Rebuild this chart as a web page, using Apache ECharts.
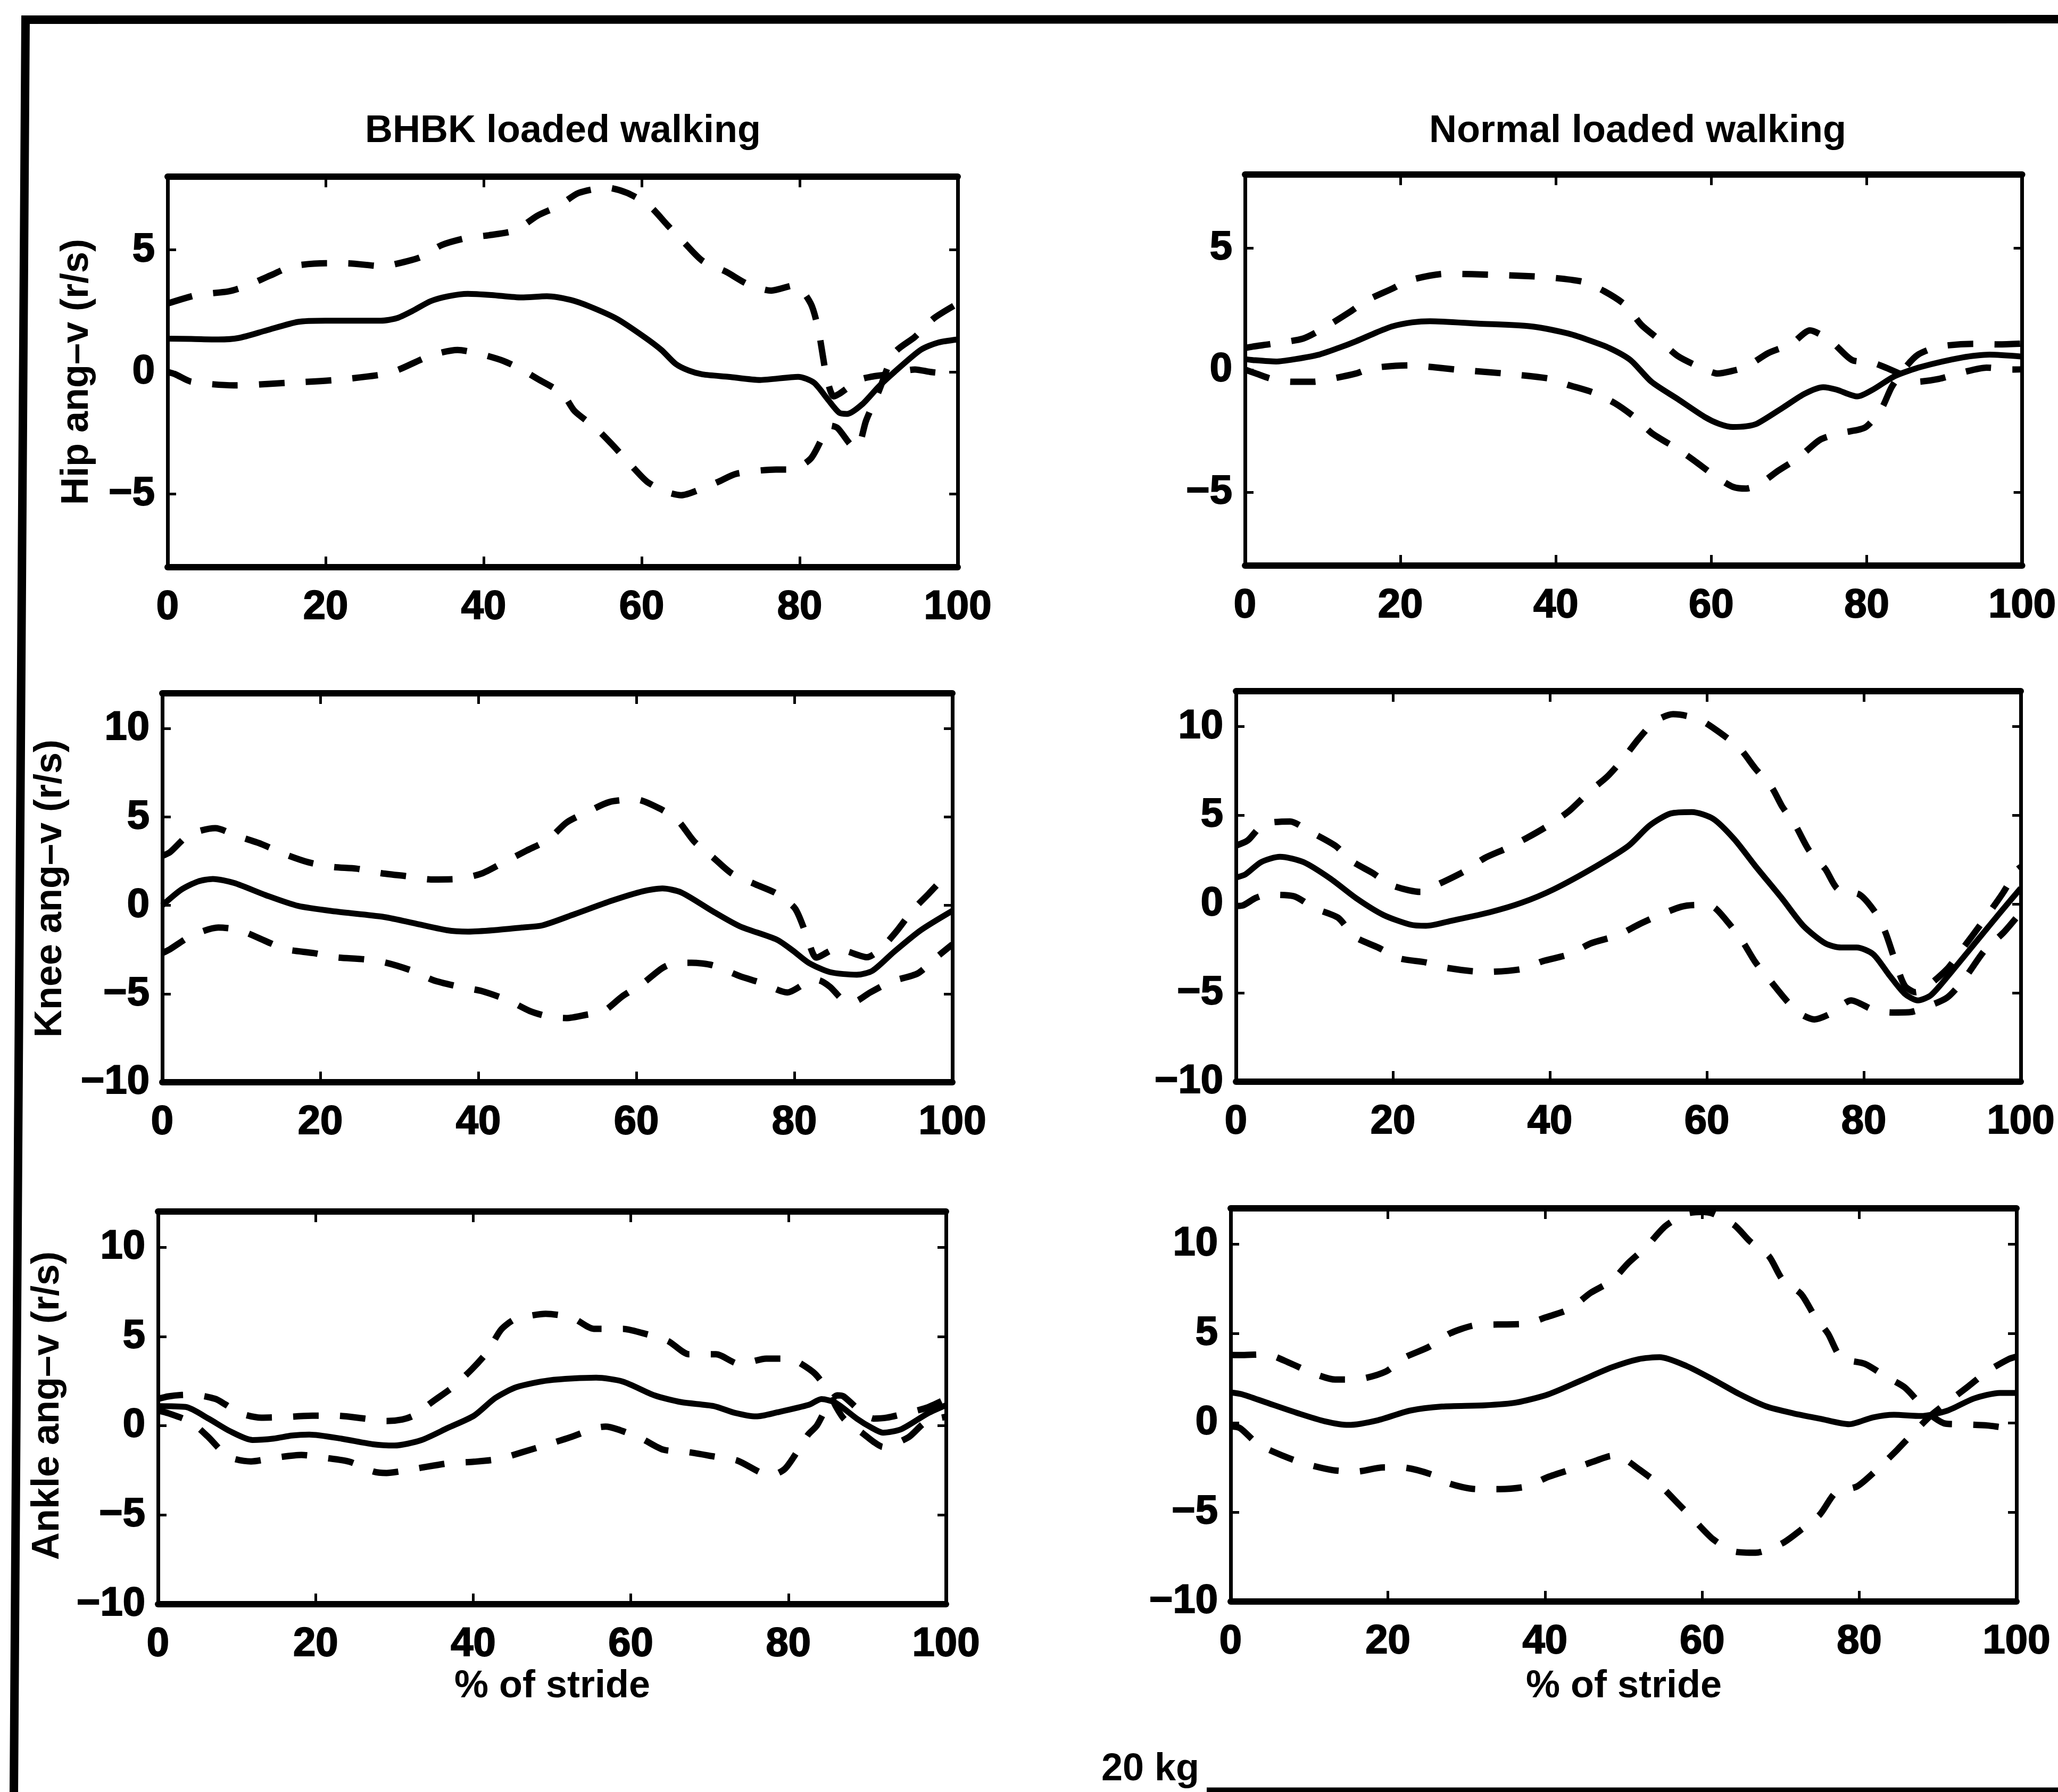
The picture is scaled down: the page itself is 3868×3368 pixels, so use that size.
<!DOCTYPE html>
<html>
<head>
<meta charset="utf-8">
<title>Joint angular velocity, 20 kg loaded walking</title>
<script src="https://cdn.jsdelivr.net/npm/echarts@6/dist/echarts.min.js"></script>
<style>
  html, body { margin: 0; padding: 0; background: #fff; }
  #chart { width: 3868px; height: 3368px; }
</style>
</head>
<body>
<div id="chart"></div>
<script>
// ---- axis values ----
const strideRange = [0, 100];
const strideInterval = 20;
const hipRange = [-8, 8];
const hipTicks = [-5, 0, 5];
const limbRange = [-10, 12];
const limbTicks = [-10, -5, 0, 5, 10];

// ---- texts ----
const columnTitles = ['BHBK loaded walking', 'Normal loaded walking'];
const rowNames = ['Hip ang\u2013v (r/s)', 'Knee ang\u2013v (r/s)', 'Ankle ang\u2013v (r/s)'];
const strideName = '% of stride';
const loadName = '20 kg';

// ---- data: [% of stride, angular velocity (r/s)] ----
// Hip, BHBK
const hipBhbkMean = [[0,1.36],[3,1.35],[6.4,1.33],[9,1.39],[12.5,1.7],[16.5,2.05],[20,2.1],[27,2.1],[29,2.2],[31,2.5],[33.3,2.9],[35.5,3.1],[38,3.2],[41,3.15],[44.8,3.05],[48,3.1],[51,2.95],[53.5,2.67],[56.9,2.17],[60.3,1.44],[62.5,0.9],[64.3,0.33],[66,0.05],[67.7,-0.1],[71,-0.2],[75,-0.33],[79.8,-0.2],[81.8,-0.44],[83.5,-1.1],[85,-1.67],[86,-1.72],[87.9,-1.33],[90,-0.6],[92,0],[95.3,0.9],[97.5,1.2],[100,1.33]];
const hipBhbkUpper = [[0,2.8],[3.7,3.15],[7.7,3.3],[9.8,3.5],[13,3.95],[15.8,4.33],[20,4.45],[22.6,4.45],[27.3,4.33],[28.6,4.4],[32,4.7],[34.7,5.2],[38,5.5],[40.7,5.6],[44,5.8],[46.8,6.4],[49.5,6.8],[52,7.33],[55.6,7.55],[58.2,7.33],[61,6.8],[63.3,6.0],[65.3,5.33],[67.7,4.55],[70.7,4.1],[73.4,3.6],[76.4,3.33],[79.4,3.55],[81.4,2.8],[82.4,1.67],[83.4,-0.2],[84.3,-1.0],[85,-0.9],[87.5,-0.33],[89,-0.2],[91.2,-0.1],[94.6,0.1],[96.5,0.0],[98,-0.05],[100,-0.1]];
const hipBhbkLower = [[0,0],[1,-0.1],[3,-0.4],[8.4,-0.55],[15,-0.45],[21.2,-0.33],[27.3,-0.1],[29.3,0.1],[33.3,0.67],[36.7,0.9],[39.7,0.72],[42.5,0.45],[44.8,0.1],[46.8,-0.28],[50,-0.9],[51.5,-1.6],[54.2,-2.3],[56.2,-2.95],[58.6,-3.8],[60.7,-4.5],[63,-4.9],[65,-5.05],[67.5,-4.8],[69.7,-4.5],[72,-4.17],[77,-4.0],[79,-4.0],[81.4,-3.55],[83.1,-2.55],[83.9,-2.2],[84.8,-2.3],[86.5,-3.0],[87.3,-3.1],[88.4,-2.0],[90,-0.8],[92,0.78],[94.6,1.44],[97,2.2],[100,2.8]];
// Hip, normal
const hipNormalMean = [[0,0.45],[1,0.41],[4,0.35],[6.5,0.45],[9.5,0.63],[12,0.9],[14.3,1.18],[17,1.55],[19,1.79],[21.5,1.95],[23.8,2.0],[30,1.9],[36.7,1.79],[41.4,1.51],[44,1.25],[46.9,0.9],[49.6,0.41],[52.3,-0.48],[55.7,-1.19],[59.1,-1.91],[61,-2.2],[62.8,-2.33],[64.5,-2.3],[65.9,-2.19],[69.3,-1.52],[72,-0.97],[74.4,-0.7],[76.1,-0.8],[78.8,-1.08],[80.8,-0.8],[83.6,-0.25],[87,0.13],[92.4,0.52],[95.8,0.63],[100,0.55]];
const hipNormalUpper = [[0,0.9],[1,0.96],[3.4,1.07],[7.5,1.29],[10.2,1.73],[13.6,2.4],[15.6,2.84],[19,3.34],[21.1,3.67],[25.8,3.94],[32.6,3.89],[38.7,3.8],[43.5,3.61],[46.2,3.23],[48.9,2.67],[51,1.85],[53.3,1.24],[55.7,0.57],[58.8,0.08],[60.8,-0.14],[62.5,-0.05],[64.5,0.13],[67.3,0.69],[70.3,1.07],[72.7,1.62],[75.4,1.18],[78.1,0.41],[80.8,0.3],[84.2,-0.14],[86.4,-0.48],[89.3,-0.36],[92.4,-0.09],[95.4,0.1],[98.8,0.02],[100,0.03]];
const hipNormalLower = [[0,0.02],[1.4,-0.14],[3.4,-0.36],[6,-0.48],[8.8,-0.48],[10.2,-0.42],[14.3,-0.14],[16.3,0.08],[21.1,0.19],[27.2,0.02],[33.3,-0.14],[39.4,-0.36],[41.4,-0.59],[44.8,-0.92],[47.6,-1.36],[50.3,-1.97],[52.3,-2.57],[55.7,-3.24],[57.7,-3.68],[60.5,-4.34],[62.8,-4.78],[64.5,-4.85],[66.2,-4.67],[68.6,-4.12],[71.3,-3.57],[74,-2.85],[76.8,-2.57],[79.8,-2.35],[81.9,-1.58],[83.2,-0.7],[84.9,0.08],[86.6,0.63],[89.3,0.96],[93.8,1.07],[97,1.05],[100,1.08]];
// Knee, BHBK
const kneeBhbkMean = [[0,0],[2.4,0.89],[4.5,1.35],[6.4,1.5],[9.1,1.27],[13.1,0.58],[17.2,-0.03],[21.9,-0.34],[27.9,-0.64],[31.3,-0.95],[36,-1.4],[38.7,-1.48],[42,-1.4],[45.5,-1.25],[48.1,-1.13],[52.2,-0.49],[56.9,0.27],[60.9,0.81],[63.3,0.96],[65.7,0.73],[69.7,-0.34],[73.1,-1.18],[77.8,-1.94],[79.8,-2.55],[81.8,-3.24],[84.5,-3.77],[87.9,-3.92],[89.9,-3.69],[92.6,-2.63],[96,-1.4],[100,-0.3]];
const kneeBhbkUpper = [[0,2.8],[1,3.02],[3.4,4.0],[6.7,4.37],[9.4,3.94],[12.5,3.48],[15.5,2.9],[18.5,2.44],[21.5,2.18],[24.6,2.08],[27.6,1.83],[31,1.65],[34,1.47],[37.4,1.5],[40.4,1.8],[43.1,2.41],[46.1,3.1],[48.8,3.71],[51.2,4.7],[53.9,5.31],[56.6,5.85],[59.9,6.0],[63,5.47],[65.3,4.78],[67.3,3.63],[69.7,2.72],[72.1,1.8],[75.1,1.19],[77.8,0.66],[80.1,-0.18],[81.5,-1.63],[82.8,-2.95],[85.2,-2.47],[86.7,-2.6],[89.2,-2.93],[90.9,-2.47],[92.9,-1.48],[95,-0.26],[97,0.66],[99.3,1.73],[100,1.9]];
const kneeBhbkLower = [[0,-2.7],[1,-2.47],[3.7,-1.71],[7.1,-1.25],[9.8,-1.4],[13.1,-2.02],[15.5,-2.47],[19.2,-2.7],[21.9,-2.93],[25.6,-3.05],[28.3,-3.24],[31.6,-3.69],[34.3,-4.23],[37.7,-4.61],[40.4,-4.84],[43.8,-5.37],[46.5,-5.97],[49,-6.3],[51.2,-6.37],[53.5,-6.2],[55.9,-5.97],[58.2,-5.15],[60.9,-4.38],[63.3,-3.54],[65,-3.25],[67,-3.24],[69.7,-3.39],[73.1,-4.0],[75.8,-4.38],[79.1,-4.92],[81.8,-4.3],[83,-4.23],[84.5,-4.6],[86.2,-5.37],[87.5,-5.45],[89.6,-4.92],[92.3,-4.3],[95.6,-3.85],[98,-2.93],[100,-2.2]];
// Knee, normal
const kneeNormalMean = [[0,1.5],[1.2,1.68],[3.2,2.37],[5.6,2.67],[8.6,2.37],[12,1.45],[15.4,0.31],[18.8,-0.61],[22.2,-1.15],[24.2,-1.22],[27.6,-0.92],[32.3,-0.46],[36.4,0.08],[40.5,0.84],[45.9,2.14],[50,3.28],[52.7,4.43],[55.4,5.11],[58.1,5.19],[60.8,4.81],[63.5,3.66],[66.2,2.14],[69.6,0.31],[72.3,-1.22],[75.1,-2.21],[77.1,-2.44],[79.1,-2.44],[81.2,-2.82],[83.2,-3.97],[85.2,-5.04],[86.9,-5.42],[88.6,-5.11],[91.3,-3.74],[94.7,-1.91],[97.4,-0.46],[100,0.9]];
const kneeNormalUpper = [[0,3.3],[1.5,3.59],[3.5,4.5],[6.9,4.66],[9.3,4.12],[12.7,3.28],[14.7,2.44],[17.4,1.76],[19.8,1.07],[23.5,0.69],[25.9,1.15],[29,1.83],[31.7,2.6],[34.4,3.13],[37.1,3.74],[39.8,4.43],[42.5,5.27],[45.2,6.41],[47.3,7.18],[49.3,8.17],[51.3,9.31],[53.4,10.3],[55.7,10.7],[57.5,10.6],[59.5,10.3],[61.8,9.62],[64.2,8.78],[66.2,7.63],[68.3,6.56],[69.6,5.5],[71.3,4.43],[73,3.05],[75.1,1.98],[76.7,0.84],[79.5,0.53],[81.7,-0.61],[82.8,-1.64],[84,-3.2],[85.2,-4.58],[86.6,-4.96],[87.9,-4.7],[90.6,-3.66],[92.3,-2.67],[94,-1.68],[96,-0.46],[97.7,0.61],[99.5,1.91],[100,2.1]];
const kneeNormalLower = [[0,-0.1],[0.8,-0.08],[2.5,0.35],[3.9,0.53],[7.3,0.46],[10,-0.23],[13,-0.76],[15.1,-1.83],[18.1,-2.44],[20.8,-3.05],[24.2,-3.28],[26.9,-3.59],[31.7,-3.82],[36.4,-3.66],[39.1,-3.21],[42.5,-2.82],[45.2,-2.21],[48.6,-1.76],[51.3,-1.15],[54,-0.61],[56.7,-0.15],[58.5,-0.05],[60.8,-0.15],[62.5,-0.92],[64.5,-2.06],[66.2,-3.28],[68.3,-4.43],[70.3,-5.5],[72,-6.2],[73.7,-6.49],[75.7,-6.18],[78.4,-5.42],[81.2,-5.95],[83.5,-6.1],[85.9,-6.08],[87.9,-5.8],[90.6,-5.27],[92.7,-4.27],[95.4,-2.6],[97.8,-1.6],[100,-0.46]];
// Ankle, BHBK
const ankleBhbkMean = [[0,1.1],[3.5,1.05],[6.4,0.4],[9.1,-0.3],[12,-0.8],[14.7,-0.72],[17,-0.55],[19.2,-0.5],[23.3,-0.73],[27.3,-1.04],[30,-1.11],[33.4,-0.81],[36.8,-0.12],[40.1,0.56],[42.8,1.55],[45.5,2.16],[49.6,2.54],[55.6,2.69],[59,2.47],[63,1.7],[66.4,1.32],[70.5,1.1],[73.2,0.72],[75.9,0.52],[78.6,0.75],[82.6,1.17],[84.2,1.49],[86,1.28],[88.7,0.39],[90.5,-0.1],[92,-0.39],[94.3,-0.2],[97.7,0.69],[100,1.15]];
const ankleBhbkUpper = [[0,1.5],[1.3,1.64],[3,1.72],[4.5,1.73],[7.3,1.5],[8.5,1.2],[10.4,0.7],[13.1,0.45],[16.2,0.49],[19.6,0.56],[22.6,0.56],[26,0.41],[29,0.26],[31,0.35],[32.4,0.56],[35,1.4],[37.4,2.16],[39.8,3.15],[41.8,4.14],[43.5,5.36],[45,5.9],[46.5,6.1],[49.2,6.27],[52.6,6.04],[55.3,5.43],[59,5.43],[61.4,5.2],[64.7,4.75],[67.4,4.0],[70.8,4.0],[73.8,3.45],[77.2,3.76],[80.2,3.76],[81.5,3.5],[83.4,2.9],[85.2,1.85],[86,1.1],[87.1,0.36],[89.5,-0.45],[90.8,-0.9],[92,-1.19],[95.2,-0.66],[97.4,0.2],[100,0.5]];
const ankleBhbkLower = [[0,0.85],[1.3,0.7],[4.2,0.2],[6.3,-0.6],[8.9,-1.73],[11.8,-2.0],[14.8,-1.8],[18.2,-1.64],[21.2,-1.8],[24.3,-2.02],[27.3,-2.56],[29,-2.65],[30.7,-2.56],[33.7,-2.33],[37,-2.1],[40.1,-2.02],[43.2,-1.87],[46.2,-1.49],[49.6,-1.03],[52.3,-0.65],[55.6,-0.12],[56.8,-0.05],[58.3,-0.2],[61.4,-0.73],[64.1,-1.34],[67.4,-1.49],[70.5,-1.72],[73.5,-1.95],[76.5,-2.63],[78,-2.75],[79.6,-2.4],[81.5,-1.19],[82.5,-0.5],[83.6,0.0],[85.2,1.3],[86.2,1.7],[87,1.64],[89.3,0.75],[90.8,0.4],[92.5,0.45],[95.4,0.75],[97.5,1.0],[100,1.5]];
// Ankle, normal
const ankleNormalMean = [[0,1.7],[1.5,1.59],[4.5,1.14],[8.6,0.53],[12,0.08],[15,-0.12],[18.8,0.15],[22.8,0.68],[26.9,0.91],[32.3,0.98],[36.4,1.14],[40.4,1.59],[44.5,2.35],[48.5,3.1],[51.9,3.56],[54.6,3.67],[58,3.18],[61.4,2.42],[64.8,1.59],[68.2,0.91],[71.6,0.53],[75,0.23],[78.7,-0.08],[81.7,0.3],[84.4,0.45],[87.8,0.38],[91.2,0.68],[94.6,1.36],[97.9,1.67],[100,1.67]];
const ankleNormalUpper = [[0,3.8],[1.5,3.79],[4.5,3.83],[7.6,3.33],[10.3,2.8],[13.3,2.42],[16.4,2.45],[19.8,2.88],[22.1,3.64],[25.2,4.24],[27.9,5.0],[31,5.45],[34,5.5],[37.4,5.53],[40.1,5.9],[43.1,6.36],[45.8,7.27],[48.5,7.95],[50.6,8.94],[52.9,9.85],[55.3,11.0],[58,11.7],[60,11.8],[61.4,11.7],[64.1,11.06],[66.1,10.15],[68.5,9.32],[70.2,8.03],[72.6,7.2],[74.3,5.98],[76,5.0],[77.7,3.64],[80.7,3.3],[83.4,2.58],[85.8,1.97],[88.2,0.83],[89.5,0.3],[91,-0.05],[93,-0.08],[96.3,-0.15],[99.3,-0.3],[100,-0.22]];
const ankleNormalLower = [[0,-0.2],[1.2,-0.3],[3.5,-1.2],[6.9,-1.89],[9.3,-2.27],[13,-2.65],[16,-2.73],[19.4,-2.5],[21.8,-2.5],[25.5,-2.88],[27.9,-3.41],[31.3,-3.71],[34.3,-3.71],[37.7,-3.56],[40.4,-3.03],[43.5,-2.58],[46.5,-2.12],[48.5,-1.85],[49.6,-1.89],[51.9,-2.58],[54.6,-3.48],[57,-4.55],[59,-5.45],[61.4,-6.52],[64.1,-7.2],[66.8,-7.27],[70.2,-6.74],[72.6,-5.98],[75,-5.12],[77,-3.9],[79.7,-3.56],[82.4,-2.55],[84.8,-1.52],[86.8,-0.6],[89.2,0.45],[91.2,1.14],[93.9,2.05],[96.3,2.88],[99,3.56],[100,3.7]];

// ---- layout ----
const FONT = "'Liberation Sans', Arial, Helvetica, sans-serif";
const TICK_SIZE = 76;
const NAME_SIZE = 72;
const DASH = [48, 40];

const panels = [
  { l: 315,  t: 332,  w: 1485, h: 734, range: hipRange,  ticks: hipTicks,  lines: [hipBhbkMean, hipBhbkUpper, hipBhbkLower] },
  { l: 2340, t: 328,  w: 1472, h: 735, range: hipRange,  ticks: hipTicks,  lines: [hipNormalMean, hipNormalUpper, hipNormalLower] },
  { l: 305,  t: 1303, w: 1485, h: 731, range: limbRange, ticks: limbTicks, lines: [kneeBhbkMean, kneeBhbkUpper, kneeBhbkLower] },
  { l: 2323, t: 1299, w: 1475, h: 734, range: limbRange, ticks: limbTicks, lines: [kneeNormalMean, kneeNormalUpper, kneeNormalLower] },
  { l: 297,  t: 2277, w: 1481, h: 738, range: limbRange, ticks: limbTicks, lines: [ankleBhbkMean, ankleBhbkUpper, ankleBhbkLower] },
  { l: 2313, t: 2271, w: 1477, h: 739, range: limbRange, ticks: limbTicks, lines: [ankleNormalMean, ankleNormalUpper, ankleNormalLower] }
];

const minusSign = v => String(v).replace('-', '\u2212');

const tickText = {
  color: '#000', fontSize: TICK_SIZE, fontWeight: 'bold', fontFamily: FONT,
  textBorderColor: '#000', textBorderWidth: 2
};

const option = {
  animation: false,
  backgroundColor: '#ffffff',
  grid: [], xAxis: [], yAxis: [], series: [], graphic: []
};

panels.forEach((p, i) => {
  option.grid.push({ left: p.l, top: p.t, width: p.w, height: p.h, containLabel: false });

  ['bottom', 'top'].forEach(pos => option.xAxis.push({
    type: 'value', gridIndex: i, position: pos,
    min: strideRange[0], max: strideRange[1], interval: strideInterval,
    axisLine: { show: true, onZero: false, lineStyle: { color: '#000', width: 12 } },
    axisTick: { show: true, inside: true, length: 20, lineStyle: { color: '#000', width: 5 } },
    axisLabel: Object.assign({ show: pos === 'bottom', margin: 38 }, tickText),
    splitLine: { show: false }
  }));

  ['left', 'right'].forEach(pos => option.yAxis.push({
    type: 'value', gridIndex: i, position: pos,
    min: p.range[0], max: p.range[1],
    axisLine: { show: true, onZero: false, lineStyle: { color: '#000', width: 7 } },
    axisTick: { show: true, inside: true, length: 16, customValues: p.ticks, lineStyle: { color: '#000', width: 5 } },
    axisLabel: Object.assign({ show: pos === 'left', customValues: p.ticks, margin: 24, formatter: minusSign }, tickText),
    splitLine: { show: false }
  }));

  p.lines.forEach((d, k) => option.series.push({
    type: 'line', xAxisIndex: 2 * i, yAxisIndex: 2 * i,
    data: d, showSymbol: false, smooth: 0.25, silent: true, z: 3,
    lineStyle: { color: '#000', width: k === 0 ? 11 : 12, type: k === 0 ? 'solid' : DASH, cap: 'butt' }
  }));
});

const label = (text, x, y, extra) => Object.assign({
  type: 'text', x: x, y: y, silent: true,
  style: {
    text: text, fill: '#000', font: 'bold ' + NAME_SIZE + 'px ' + FONT,
    align: 'center', verticalAlign: 'middle'
  }
}, extra || {});

// column titles
option.graphic.push(label(columnTitles[0], 1058, 247));
option.graphic.push(label(columnTitles[1], 3078, 247));
// row names, reading upwards
option.graphic.push(label(rowNames[0], 145, 699, { rotation: Math.PI / 2 }));
option.graphic.push(label(rowNames[1], 95, 1670, { rotation: Math.PI / 2 }));
option.graphic.push(label(rowNames[2], 90, 2642, { rotation: Math.PI / 2 }));
// x-axis names under the last row
option.graphic.push(label(strideName, 1038, 3170));
option.graphic.push(label(strideName, 3052, 3170));
// load caption and its rule
option.graphic.push(label(loadName, 2162, 3326));
option.graphic.push({
  type: 'line', silent: true,
  shape: { x1: 2268, y1: 3364, x2: 3868, y2: 3364 },
  style: { stroke: '#000', lineWidth: 9 }
});
// figure frame (top and left edges)
option.graphic.push({
  type: 'polyline', silent: true,
  shape: { points: [[3868, 36], [48, 37], [26, 3368]] },
  style: { stroke: '#000', lineWidth: 16, fill: null, lineJoin: 'miter' }
});

const chart = echarts.init(document.getElementById('chart'), null, { renderer: 'canvas', width: 3868, height: 3368 });
chart.setOption(option);
</script>
</body>
</html>
